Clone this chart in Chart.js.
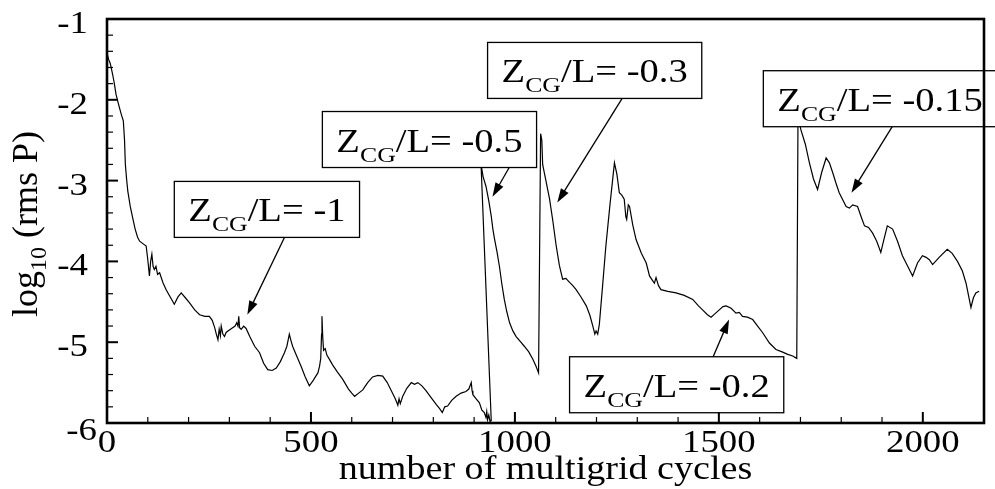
<!DOCTYPE html>
<html>
<head>
<meta charset="utf-8">
<script src="https://cdn.jsdelivr.net/npm/chart.js@4.4.1/dist/chart.umd.min.js"></script>
<style>
  html, body { margin: 0; padding: 0; background: #fff; }
  canvas { display: block; }
  .fontwarm { position: absolute; left: -999px; top: 0; font-family: "Liberation Serif"; }
</style>
</head>
<body>
<span class="fontwarm">Z0123456789 log rms</span>
<canvas id="convergence" width="995" height="489"></canvas>
<script>
// log10 of rms pressure residual per multigrid cycle, one run per CG height
const runZ100 = [[0,-1.42],[4,-1.5],[8,-1.55],[11,-1.62],[14,-1.69],[18,-1.8],[22,-1.93],[28,-2.05],[35,-2.18],[40,-2.26],[43,-2.5],[45,-2.8],[48,-2.98],[51,-3.13],[57,-3.32],[63,-3.46],[69,-3.6],[75,-3.7],[80,-3.75],[88,-3.78],[96,-3.81],[100,-3.98],[104,-4.18],[107,-4.0],[110,-3.91],[113,-4.06],[116,-4.1],[120,-4.06],[124,-4.16],[129,-4.14],[137,-4.26],[145,-4.35],[155,-4.44],[165,-4.53],[174,-4.44],[182,-4.39],[192,-4.45],[202,-4.51],[215,-4.6],[227,-4.66],[240,-4.68],[251,-4.68],[258,-4.73],[264,-4.82],[268,-4.9],[272,-4.97],[275,-4.84],[278,-4.92],[280,-4.8],[284,-4.9],[288,-4.93],[292,-4.88],[300,-4.85],[308,-4.82],[314,-4.8],[318,-4.76],[321,-4.8],[323,-4.68],[325,-4.82],[329,-4.84],[335,-4.8],[341,-4.83],[350,-4.93],[362,-5.05],[374,-5.13],[384,-5.26],[394,-5.34],[405,-5.35],[415,-5.32],[425,-5.24],[435,-5.13],[441,-5.05],[447,-4.9],[451,-4.98],[455,-5.05],[465,-5.17],[476,-5.3],[486,-5.43],[496,-5.54],[506,-5.47],[512,-5.42],[517,-5.38],[521,-5.3],[524,-5.2],[526,-4.9],[527,-4.68],[529,-4.95],[531,-5.1],[535,-5.08],[539,-5.16],[545,-5.21],[553,-5.28],[565,-5.37],[578,-5.46],[592,-5.58],[600,-5.63],[607,-5.67],[617,-5.63],[627,-5.59],[639,-5.5],[651,-5.43],[664,-5.41],[676,-5.42],[687,-5.5],[697,-5.6],[705,-5.68],[710,-5.74],[713,-5.78],[716,-5.7],[719,-5.76],[725,-5.67],[735,-5.57],[746,-5.5],[754,-5.52],[762,-5.5],[772,-5.54],[782,-5.6],[795,-5.69],[807,-5.77],[815,-5.82],[822,-5.87],[828,-5.8],[835,-5.79],[845,-5.72],[856,-5.67],[868,-5.63],[880,-5.61],[887,-5.58],[893,-5.5],[895,-5.6],[897,-5.65],[905,-5.7],[913,-5.75],[919,-5.84],[925,-5.87],[929,-5.93],[931,-5.86],[933,-5.96],[936,-5.9],[939,-5.98],[942,-5.97]];
const runZ050 = [[917,-2.8],[922,-2.95],[929,-3.07],[936,-3.25],[942,-3.44],[946,-3.6],[950,-3.72],[956,-3.88],[962,-4.06],[968,-4.28],[974,-4.47],[980,-4.62],[987,-4.76],[995,-4.86],[1003,-4.93],[1013,-4.99],[1023,-5.05],[1034,-5.12],[1044,-5.21],[1052,-5.3],[1058,-5.38]];
const runZ030 = [[1063,-2.42],[1066,-2.5],[1068,-2.8],[1076,-3.0],[1085,-3.23],[1093,-3.5],[1101,-3.8],[1109,-4.05],[1117,-4.22],[1125,-4.21],[1134,-4.26],[1142,-4.3],[1150,-4.35],[1162,-4.44],[1175,-4.55],[1184,-4.67],[1191,-4.8],[1196,-4.9],[1199,-4.86],[1203,-4.9],[1207,-4.78]];
const runZ020 = [[1215,-4.3],[1223,-3.81],[1233,-3.3],[1244,-2.78],[1250,-2.92],[1256,-3.15],[1262,-3.18],[1268,-3.23],[1272,-3.45],[1274,-3.48],[1278,-3.3],[1281,-3.32],[1289,-3.55],[1297,-3.73],[1310,-3.9],[1322,-4.02],[1330,-4.18],[1338,-4.24],[1342,-4.27],[1346,-4.2],[1352,-4.3],[1358,-4.35],[1375,-4.37],[1395,-4.39],[1415,-4.42],[1436,-4.47],[1450,-4.55],[1460,-4.6],[1472,-4.66],[1481,-4.69],[1490,-4.65],[1501,-4.6],[1510,-4.56],[1518,-4.55],[1530,-4.58],[1542,-4.64],[1550,-4.63],[1558,-4.68],[1570,-4.69],[1583,-4.72],[1595,-4.8],[1607,-4.88],[1624,-5.01],[1640,-5.09],[1655,-5.12],[1669,-5.15],[1681,-5.17],[1691,-5.2]];
const runZ015 = [[1694,-2.2],[1701,-2.37],[1712,-2.55],[1722,-2.78],[1732,-2.98],[1742,-3.11],[1752,-2.9],[1763,-2.72],[1771,-2.78],[1779,-2.9],[1787,-3.03],[1795,-3.15],[1812,-3.32],[1820,-3.34],[1828,-3.3],[1840,-3.32],[1849,-3.45],[1857,-3.56],[1867,-3.58],[1877,-3.65],[1887,-3.75],[1897,-3.89],[1905,-3.72],[1913,-3.56],[1926,-3.6],[1938,-3.75],[1950,-3.93],[1962,-4.05],[1975,-4.18],[1987,-4.02],[1999,-3.93],[2008,-3.95],[2016,-3.98],[2024,-4.04],[2040,-3.95],[2060,-3.85],[2072,-3.9],[2085,-4.0],[2097,-4.12],[2106,-4.27],[2112,-4.42],[2118,-4.57],[2124,-4.45],[2130,-4.39],[2138,-4.37]];

const runs = [runZ100, runZ050, runZ030, runZ020, runZ015];

// callouts: box corner and arrow tip in data units
const callouts = [
  { label: "-1",    x: 165,  y: -3.01, tail: 435,  tipX: 344,  tipY: -4.66 },
  { label: "-0.5",  x: 528,  y: -2.145, tail: 986, tipX: 945,  tipY: -3.2 },
  { label: "-0.3",  x: 933,  y: -1.29, tail: 1263, tipX: 1104, tipY: -3.27 },
  { label: "-0.15", x: 1609, y: -1.64, tail: 1925, tipX: 1825, tipY: -3.15 },
  { label: "-0.2",  x: 1134, y: -5.18, tail: 1486, tipX: 1525, tipY: -4.72 },
];

const SERIF = '"Liberation Serif", "Times New Roman", serif';
const WIDE = 1.15;

// draws text stretched horizontally, returns drawn width
function wideText(ctx, str, x, y, align, k) {
  k = k || WIDE;
  const w = ctx.measureText(str).width * k;
  const left = align === "center" ? x - w / 2 : align === "right" ? x - w : x;
  ctx.save();
  ctx.translate(left, y);
  ctx.scale(k, 1);
  ctx.textAlign = "left";
  ctx.fillText(str, 0, 0);
  ctx.restore();
  return w;
}

const whiteBg = {
  id: "whiteBg",
  beforeDraw(chart) {
    const c = chart.ctx;
    c.save();
    c.fillStyle = "#fff";
    c.fillRect(0, 0, chart.width, chart.height);
    c.restore();
  },
};

const calloutBoxes = {
  id: "calloutBoxes",
  afterDatasetsDraw(chart) {
    const c = chart.ctx, xs = chart.scales.x, ys = chart.scales.y;
    const k = 1.17, boxH = 56, pad = 14;
    c.save();
    c.fillStyle = "#000";
    c.strokeStyle = "#000";
    callouts.forEach((n) => {
      const bx = xs.getPixelForValue(n.x), by = ys.getPixelForValue(n.y);
      const tail = "/L= " + n.label;
      c.font = "33px " + SERIF;
      const wZ = c.measureText("Z").width * k;
      const wT = c.measureText(tail).width * k;
      c.font = "22px " + SERIF;
      const wS = c.measureText("CG").width * k;
      const boxW = wZ + wS + wT + pad * 2;

      c.fillStyle = "#fff";
      c.fillRect(bx, by, boxW, boxH);
      c.lineWidth = 1.3;
      c.strokeRect(bx, by, boxW, boxH);

      c.fillStyle = "#000";
      c.textBaseline = "alphabetic";
      let tx = bx + pad;
      c.font = "33px " + SERIF;
      tx += wideText(c, "Z", tx, by + 40, "left", k);
      c.font = "22px " + SERIF;
      tx += wideText(c, "CG", tx, by + 50, "left", k);
      c.font = "33px " + SERIF;
      wideText(c, tail, tx, by + 40, "left", k);

      // arrow from box edge to the curve
      const px = xs.getPixelForValue(n.tipX), py = ys.getPixelForValue(n.tipY);
      const sx = xs.getPixelForValue(n.tail);
      const sy = py > by ? by + boxH : by;
      const ang = Math.atan2(py - sy, px - sx);
      const head = 14, half = 4.5;
      c.lineWidth = 1.3;
      c.beginPath();
      c.moveTo(sx, sy);
      c.lineTo(px - Math.cos(ang) * head * 0.8, py - Math.sin(ang) * head * 0.8);
      c.stroke();
      c.beginPath();
      c.moveTo(px, py);
      c.lineTo(px - Math.cos(ang) * head - Math.sin(ang) * half, py - Math.sin(ang) * head + Math.cos(ang) * half);
      c.lineTo(px - Math.cos(ang) * head + Math.sin(ang) * half, py - Math.sin(ang) * head - Math.cos(ang) * half);
      c.closePath();
      c.fill();
    });
    c.restore();
  },
};

const frame = {
  id: "frame",
  afterDraw(chart) {
    const c = chart.ctx, a = chart.chartArea;
    const xs = chart.scales.x, ys = chart.scales.y;
    c.save();
    c.strokeStyle = "#000";
    c.fillStyle = "#000";

    // inward ticks on the left and bottom
    xs.ticks.forEach((t) => {
      if (t.value % 100 !== 0) return;
      const major = t.value % 500 === 0;
      const x = xs.getPixelForValue(t.value);
      c.lineWidth = major ? 2 : 1.2;
      c.beginPath();
      c.moveTo(x, a.bottom);
      c.lineTo(x, a.bottom - (major ? 11 : 6));
      c.stroke();
    });
    ys.ticks.forEach((t) => {
      const major = Math.abs(t.value - Math.round(t.value)) < 1e-6;
      const y = ys.getPixelForValue(t.value);
      c.lineWidth = major ? 2 : 1.2;
      c.beginPath();
      c.moveTo(a.left, y);
      c.lineTo(a.left + (major ? 11 : 6), y);
      c.stroke();
    });

    c.lineWidth = 2.6;
    c.strokeRect(a.left, a.top, a.right - a.left, a.bottom - a.top);

    // tick labels
    c.font = "32px " + SERIF;
    c.textBaseline = "alphabetic";
    xs.ticks.forEach((t) => {
      if (t.value % 500 !== 0) return;
      wideText(c, String(t.value), xs.getPixelForValue(t.value), a.bottom + 29, "center");
    });
    ys.ticks.forEach((t) => {
      if (Math.abs(t.value - Math.round(t.value)) > 1e-6) return;
      const v = Math.round(t.value);
      const y = ys.getPixelForValue(t.value);
      // bottom label sits tucked into the corner next to the x origin
      if (v === ys.min) wideText(c, String(v), a.left - 10, y + 17, "right");
      else wideText(c, String(v), a.left - 19, y + 14, "right");
    });

    // axis titles
    c.font = "34px " + SERIF;
    wideText(c, "number of multigrid cycles", (a.left + a.right) / 2, 479, "center", 1.12);

    c.save();
    c.translate(37, 317);
    c.rotate(-Math.PI / 2);
    c.textAlign = "left";
    c.font = "36px " + SERIF;
    let w = 0;
    c.fillText("log", w, 0);
    w += c.measureText("log").width;
    c.font = "24px " + SERIF;
    c.fillText("10", w, 9);
    w += c.measureText("10").width;
    c.font = "36px " + SERIF;
    c.fillText(" (rms P)", w, 0);
    c.restore();

    c.restore();
  },
};

function drawChart() {
  new Chart(document.getElementById("convergence").getContext("2d"), {
    type: "scatter",
    data: {
      datasets: [{
        label: "log10 (rms P)",
        data: runs.flat().map(([x, y]) => ({ x, y })),
        showLine: true,
        borderColor: "#000",
        borderWidth: 1.2,
        pointRadius: 0,
        tension: 0,
      }],
    },
    options: {
      responsive: false,
      animation: false,
      layout: { padding: { top: 19, right: 11, left: 0, bottom: 0 } },
      plugins: { legend: { display: false }, tooltip: { enabled: false } },
      scales: {
        x: {
          type: "linear",
          min: 0,
          max: 2150,
          ticks: { stepSize: 100, display: false },
          grid: { display: false },
          border: { display: false },
          afterFit: (s) => { s.height = 66; },
        },
        y: {
          type: "linear",
          min: -6,
          max: -1,
          ticks: { stepSize: 0.2, display: false },
          grid: { display: false },
          border: { display: false },
          afterFit: (s) => { s.width = 107; },
        },
      },
    },
    plugins: [whiteBg, calloutBoxes, frame],
  });
}

// make sure the serif face is ready before the canvas uses it
document.fonts.load('32px "Liberation Serif"').then(drawChart, drawChart);
</script>
</body>
</html>
